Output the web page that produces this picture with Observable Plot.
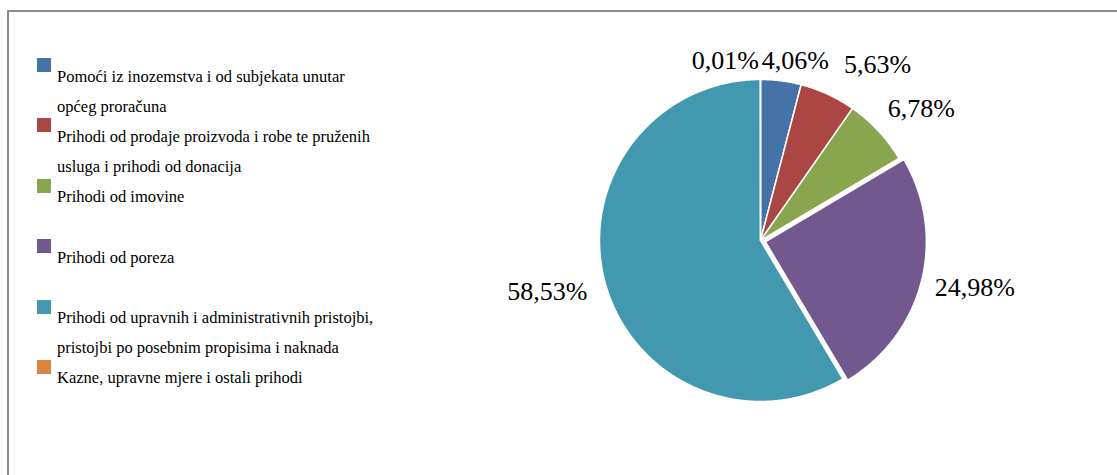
<!DOCTYPE html>
<html>
<head>
<meta charset="utf-8">
<script src="https://cdn.jsdelivr.net/npm/d3@7"></script>
<script src="https://cdn.jsdelivr.net/npm/@observablehq/plot@0.6"></script>
<style>
  html, body { margin: 0; padding: 0; background: #fff; overflow: hidden; }
  #wrap { position: relative; width: 1117px; height: 475px; overflow: hidden; font-family: "Liberation Serif", "Times New Roman", Times, "DejaVu Serif", serif; }
  #border { position: absolute; left: 7px; top: 10px; width: 1200px; height: 600px; border: 2px solid #8c8c8c; box-sizing: border-box; }
  #chart { position: absolute; left: 0; top: 0; }
  #legend { position: absolute; left: 37px; top: 58px; }
  .item { position: relative; height: 60.4px; }
  .sw { position: absolute; left: 0; top: 0; width: 14px; height: 14px; }
  .lab { position: absolute; left: 20px; top: 3.5px; font-size: 16.5px; line-height: 30px; color: #000; white-space: pre; }
</style>
</head>
<body>
<div id="wrap">
  <div id="border"></div>
  <div id="chart"></div>
  <div id="legend"></div>
</div>
<script>
// ---- data ----
const categories = [
  "Pomoći iz inozemstva i od subjekata unutar\nopćeg proračuna",
  "Prihodi od prodaje proizvoda i robe te pruženih\nusluga i prihodi od donacija",
  "Prihodi od imovine",
  "Prihodi od poreza",
  "Prihodi od upravnih i administrativnih pristojbi,\npristojbi po posebnim propisima i naknada",
  "Kazne, upravne mjere i ostali prihodi"
];
const shares = [4.06, 5.63, 6.78, 24.98, 58.53, 0.01];
const colors = ["#4572A7", "#AA4643", "#89A54E", "#71588F", "#4198AF", "#DB843D"];
const explodedCategory = "Prihodi od poreza";

// ---- layout ----
const W = 1117, H = 475;
const cx = 760, cy = 240, R = 161;
const labelFont = 26;
const serif = '"Liberation Serif", "Times New Roman", Times, "DejaVu Serif", serif';
const fmt = v => v.toFixed(2).replace(".", ",") + "%";

const arcs = d3.pie().sort(null).value(d => d)(shares);
const explodeUnits = 5 / R;

const polyPts = [];
arcs.forEach((a, i) => {
  const mid = (a.startAngle + a.endAngle) / 2;
  const ex = categories[i] === explodedCategory ? explodeUnits : 0;
  const ox = ex * Math.sin(mid), oy = ex * Math.cos(mid);
  const cat = categories[i];
  polyPts.push({cat, x: ox, y: oy});
  const n = Math.max(2, Math.ceil((a.endAngle - a.startAngle) / (Math.PI / 360)));
  for (let k = 0; k <= n; k++) {
    const t = a.startAngle + (a.endAngle - a.startAngle) * k / n;
    polyPts.push({cat, x: ox + Math.sin(t), y: oy + Math.cos(t)});
  }
  polyPts.push({cat, x: ox, y: oy});
});

const ctx = document.createElement("canvas").getContext("2d");
ctx.font = `${labelFont}px ${serif}`;
const lh = labelFont;
const topLimit = 47;
let boxes = arcs.map((a, i) => {
  const mid = (a.startAngle + a.endAngle) / 2;
  const s = Math.sin(mid), c = Math.cos(mid);
  const text = fmt(shares[i]);
  const w = ctx.measureText(text).width;
  const rr = R * 1.12;
  let px = cx + rr * s, py = cy - rr * c;
  let mx = px + (w / 2) * Math.sign(s) * Math.sqrt(Math.abs(s));
  let my = py - (lh / 2) * c;
  if (my - lh / 2 < topLimit) my = topLimit + lh / 2;
  return {i, text, w, s, mx, my};
});
const gapLeft = 3, gapRight = 15;
const topBoxes = boxes.filter(b => b.my < cy).sort((a, b) => a.mx - b.mx);
const rightSide = topBoxes.filter(b => b.s >= 0);
const leftSide = topBoxes.filter(b => b.s < 0).reverse();
for (let k = 1; k < rightSide.length; k++) {
  const p = rightSide[k - 1], q = rightSide[k];
  const vOverlap = Math.abs(p.my - q.my) < lh;
  const minX = p.mx + p.w / 2 + gapRight + q.w / 2;
  if (vOverlap && q.mx < minX) q.mx = minX;
}
let prev = rightSide[0];
for (const b of leftSide) {
  if (prev && Math.abs(prev.my - b.my) < lh) {
    const maxX = prev.mx - prev.w / 2 - gapLeft - b.w / 2;
    if (b.mx > maxX) b.mx = maxX;
  }
  prev = b;
}
const labelData = boxes.map(b => ({text: b.text, x: (b.mx - cx) / R, y: (cy - b.my) / R}));

const plot = Plot.plot({
  width: W,
  height: H,
  marginTop: 0, marginRight: 0, marginBottom: 0, marginLeft: 0,
  x: {domain: [-1, 1], range: [cx - R, cx + R], axis: null},
  y: {domain: [-1, 1], range: [cy + R, cy - R], axis: null},
  color: {domain: categories, range: colors},
  style: {background: "transparent", fontFamily: serif},
  marks: [
    Plot.line(polyPts, {x: "x", y: "y", z: "cat", fill: "cat", stroke: "white", strokeWidth: 1.5, curve: "linear", strokeLinejoin: "round"}),
    Plot.text(labelData, {x: "x", y: "y", text: "text", fontSize: labelFont, fontFamily: serif, fill: "#000", textAnchor: "middle", lineAnchor: "middle"})
  ]
});
document.getElementById("chart").appendChild(plot);

const leg = document.getElementById("legend");
categories.forEach((c, i) => {
  const it = document.createElement("div");
  it.className = "item";
  const sw = document.createElement("div");
  sw.className = "sw";
  sw.style.background = colors[i];
  const lab = document.createElement("div");
  lab.className = "lab";
  lab.textContent = c;
  it.appendChild(sw);
  it.appendChild(lab);
  leg.appendChild(it);
});
</script>
</body>
</html>
